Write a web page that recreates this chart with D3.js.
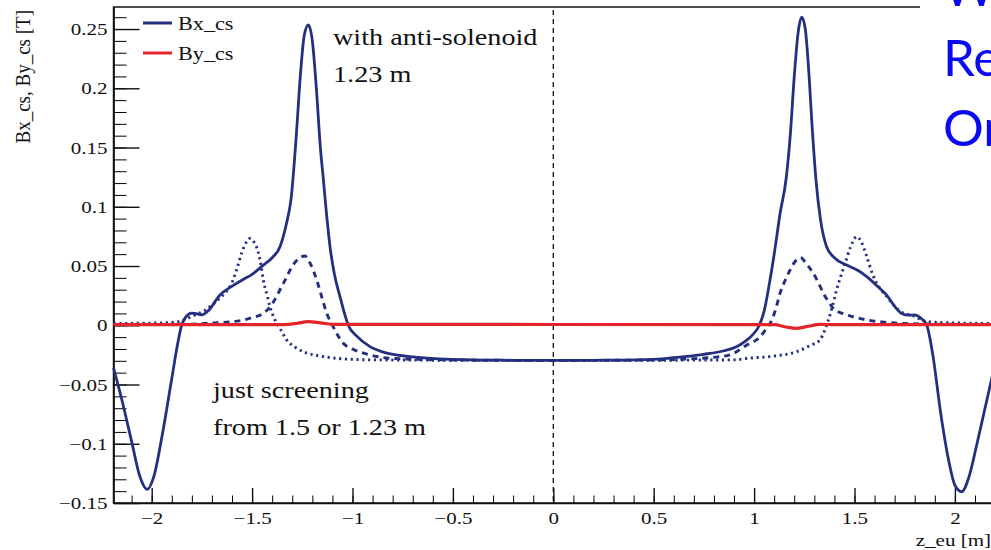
<!DOCTYPE html>
<html lang="en">
<head>
<meta charset="utf-8"/>
<title>Bx_cs, By_cs vs z_eu</title>
<script src="https://d3js.org/d3.v7.min.js"></script>
<style>
  body { margin: 0; background: #fff; overflow: hidden; }
  text { font-family: "Liberation Serif", "DejaVu Serif", serif; fill: #111; }
</style>
</head>
<body>
<script>
// data: [z_eu (m), field (T)]
var bxAnti = [[-2.19,-0.036],[-2.15,-0.062],[-2.10,-0.098],[-2.06,-0.127],[-2.022,-0.1385],[-1.99,-0.128],
  [-1.95,-0.095],[-1.90,-0.045],[-1.87,-0.015],[-1.851,0],[-1.83,0.007],[-1.80,0.0103],[-1.77,0.0095],
  [-1.75,0.0088],[-1.72,0.012],[-1.66,0.0255],[-1.60,0.033],[-1.543,0.0388],[-1.50,0.043],[-1.444,0.0508],
  [-1.40,0.057],[-1.361,0.0663],[-1.33,0.085],[-1.305,0.108],[-1.28,0.16],[-1.26,0.21],[-1.24,0.245],
  [-1.22,0.2534],[-1.20,0.24],[-1.18,0.2],[-1.16,0.15],[-1.145,0.123],[-1.13,0.095],[-1.112,0.0663],
  [-1.09,0.043],[-1.062,0.024],[-1.04,0.01],[-1.021,0],[-0.98,-0.009],[-0.913,-0.018],[-0.85,-0.0225],
  [-0.714,-0.0265],[-0.5,-0.0288],[-0.25,-0.0295],[0,-0.0297],[0.25,-0.0295],[0.5,-0.0288],[0.63,-0.0268],
  [0.75,-0.0245],[0.85,-0.0215],[0.92,-0.0175],[0.96,-0.013],[0.99,-0.0085],[1.026,0],[1.05,0.012],
  [1.079,0.038],[1.10,0.06],[1.13,0.095],[1.159,0.123],[1.18,0.16],[1.20,0.21],[1.22,0.248],[1.237,0.26],
  [1.255,0.25],[1.27,0.22],[1.29,0.165],[1.308,0.123],[1.33,0.09],[1.361,0.0663],[1.40,0.057],
  [1.461,0.0508],[1.52,0.046],[1.561,0.041],[1.62,0.032],[1.66,0.0255],[1.70,0.016],[1.735,0.01],
  [1.77,0.0085],[1.80,0.0087],[1.83,0.006],[1.86,0],[1.89,-0.025],[1.93,-0.075],[1.97,-0.115],
  [2.00,-0.135],[2.034,-0.1405],[2.07,-0.128],[2.11,-0.1],[2.15,-0.07],[2.19,-0.04]];

var bxScreen123 = [[-2.19,0.0005],[-1.80,0.001],[-1.70,0.002],[-1.60,0.003],[-1.544,0.0044],[-1.50,0.0065],
  [-1.444,0.01],[-1.40,0.018],[-1.361,0.03],[-1.33,0.04],[-1.303,0.049],[-1.27,0.056],[-1.237,0.0584],
  [-1.21,0.052],[-1.178,0.038],[-1.15,0.022],[-1.128,0.01],[-1.10,0],[-1.075,-0.008],[-1.046,-0.0152],
  [-1.0,-0.02],[-0.913,-0.025],[-0.80,-0.028],[-0.5,-0.0293],[0,-0.0297],[0.5,-0.0293],[0.80,-0.027],
  [0.88,-0.025],[0.96,-0.017],[1.03,-0.0097],[1.06,-0.003],[1.088,0.0044],[1.11,0.015],[1.129,0.027],
  [1.155,0.038],[1.179,0.0466],[1.205,0.054],[1.232,0.057],[1.26,0.052],[1.295,0.0438],[1.32,0.036],
  [1.345,0.027],[1.37,0.02],[1.394,0.0143],[1.44,0.01],[1.494,0.0072],[1.56,0.0045],[1.627,0.003],
  [1.75,0.0015],[2.19,0.0005]];

var bxScreen150 = [[-2.19,0.0015],[-1.95,0.002],[-1.87,0.003],[-1.82,0.006],[-1.78,0.009],[-1.74,0.012],
  [-1.70,0.017],[-1.66,0.023],[-1.63,0.028],[-1.60,0.036],[-1.575,0.048],[-1.55,0.062],[-1.525,0.071],
  [-1.51,0.0733],[-1.49,0.07],[-1.47,0.062],[-1.455,0.05],[-1.444,0.038],[-1.425,0.025],[-1.411,0.0157],
  [-1.39,0.006],[-1.37,0],[-1.35,-0.006],[-1.328,-0.0124],[-1.29,-0.018],[-1.245,-0.0223],[-1.16,-0.026],
  [-1.079,-0.0279],[-0.9,-0.0292],[0,-0.0297],[0.9,-0.0292],[0.963,-0.028],[1.10,-0.026],[1.212,-0.0223],
  [1.28,-0.017],[1.328,-0.0124],[1.35,-0.005],[1.37,0.0044],[1.39,0.016],[1.411,0.03],[1.435,0.043],
  [1.453,0.052],[1.48,0.066],[1.511,0.0747],[1.535,0.07],[1.561,0.058],[1.59,0.043],[1.627,0.031],
  [1.66,0.0245],[1.70,0.016],[1.735,0.011],[1.77,0.009],[1.80,0.0075],[1.84,0.004],[1.90,0.0025],
  [2.19,0.0015]];

var byCs = [[-2.19,0.0005],[-1.35,0.0005],[-1.28,0.0015],[-1.22,0.003],[-1.16,0.002],[-1.10,0.0008],
  [1.10,0.0005],[1.16,-0.0015],[1.21,-0.0026],[1.26,-0.0012],[1.33,0.0008],[1.40,0.0005],[2.19,0.0005]];

var xMajor = [-2, -1.5, -1, -0.5, 0, 0.5, 1, 1.5, 2];
var yMajor = [-0.15, -0.1, -0.05, 0, 0.05, 0.1, 0.15, 0.2, 0.25];
var legendNames = ["Bx_cs", "By_cs"];
var slideLines = ["Wi", "Re", "Or"];

var W = 991, H = 550;
var navy = "#24307f", red = "#e3242b";

var x = d3.scaleLinear().domain([-2.19, 2.19]).range([113.55, 993.05]);
var y = d3.scaleLinear().domain([-0.15, 0.2686]).range([503, 7]);

var svg = d3.select("body").append("svg").attr("width", W).attr("height", H);

// stretch text horizontally like the pasted image
function stretch(sel, k) {
  sel.each(function () {
    var w = this.getComputedTextLength();
    d3.select(this).attr("textLength", w * k).attr("lengthAdjust", "spacingAndGlyphs");
  });
}

// frame
svg.append("rect").attr("x", x(-2.19)).attr("y", y(0.2686))
  .attr("width", x(2.19) - x(-2.19)).attr("height", y(-0.15) - y(0.2686))
  .attr("fill", "none").attr("stroke", "#222").attr("stroke-width", 1.6);

// x axis
var xMinor = d3.range(-21, 22).map(function (d) { return d / 10; });
svg.append("g").attr("transform", "translate(0," + y(-0.15) + ")")
  .call(d3.axisBottom(x).tickValues(xMinor).tickSizeInner(-7.5).tickSizeOuter(0).tickFormat(""))
  .call(function (g) { g.select(".domain").attr("stroke", "#111").attr("stroke-width", 1.6); });
var xg = svg.append("g").attr("transform", "translate(0," + y(-0.15) + ")")
  .call(d3.axisBottom(x).tickValues(xMajor).tickSizeInner(-15).tickSizeOuter(0).tickPadding(9)
    .tickFormat(function (d) { return d3.format("")(d).replace("-", "\u2212"); }));
xg.select(".domain").remove();
xg.selectAll("line").attr("stroke", "#111").attr("stroke-width", 1.4);
xg.selectAll("text").attr("font-family", "Liberation Serif").attr("font-size", 17.5).attr("fill", "#111")
  .call(stretch, 1.2);

// y axis
var yMinor = d3.range(-15, 27).map(function (d) { return d / 100; });
svg.append("g").attr("transform", "translate(" + x(-2.19) + ",0)")
  .call(d3.axisLeft(y).tickValues(yMinor).tickSizeInner(-13).tickSizeOuter(0).tickFormat(""))
  .call(function (g) { g.select(".domain").attr("stroke", "#111").attr("stroke-width", 1.6); });
var yg = svg.append("g").attr("transform", "translate(" + x(-2.19) + ",0)")
  .call(d3.axisLeft(y).tickValues(yMajor).tickSizeInner(-26).tickSizeOuter(0).tickPadding(6)
    .tickFormat(function (d) { return d3.format("")(d).replace("-", "\u2212"); }));
yg.select(".domain").remove();
yg.selectAll("line").attr("stroke", "#111").attr("stroke-width", 1.4);
yg.selectAll("text").attr("font-family", "Liberation Serif").attr("font-size", 17.5).attr("fill", "#111")
  .call(stretch, 1.2);

// axis titles
svg.append("text").attr("text-anchor", "end").attr("font-size", 17.5)
  .attr("x", 991).attr("y", 546).text("z_eu [m]").call(stretch, 1.2);
svg.append("text").attr("text-anchor", "end").attr("font-size", 19)
  .attr("transform", "translate(30,10) scale(1.15,1) rotate(-90)").text("Bx_cs, By_cs [T]");

// vertical line at z = 0
svg.append("line").attr("x1", x(0)).attr("x2", x(0)).attr("y1", y(0.2686) + 3).attr("y2", y(-0.15))
  .attr("stroke", "#111").attr("stroke-width", 1.3).attr("stroke-dasharray", "5,4");

// curves
var line = d3.line().x(function (d) { return x(d[0]); }).y(function (d) { return y(d[1]); })
  .curve(d3.curveMonotoneX);

svg.append("path").datum(bxScreen150).attr("d", line).attr("fill", "none").attr("stroke", navy)
  .attr("stroke-width", 2.9).attr("stroke-dasharray", "2.2,3.6");
svg.append("path").datum(bxScreen123).attr("d", line).attr("fill", "none").attr("stroke", navy)
  .attr("stroke-width", 2.9).attr("stroke-dasharray", "6,5");
svg.append("path").datum(bxAnti).attr("d", line).attr("fill", "none").attr("stroke", navy)
  .attr("stroke-width", 2.8);
svg.append("path").datum(byCs).attr("d", line).attr("fill", "none").attr("stroke", red)
  .attr("stroke-width", 3.2);

// legend
var lg = svg.append("g");
[navy, red].forEach(function (c, i) {
  lg.append("line").attr("x1", 143).attr("x2", 172).attr("y1", 23 + 30 * i).attr("y2", 23 + 30 * i)
    .attr("stroke", c).attr("stroke-width", 3);
  lg.append("text").attr("x", 178).attr("y", 30 + 30 * i).attr("font-size", 18.5)
    .text(legendNames[i]).call(stretch, 1.2);
});

// annotations
var notes = [[333, 45, "with anti-solenoid"], [333, 82, "1.23 m"],
  [213, 398, "just screening"], [213, 435, "from 1.5 or 1.23 m"]];
notes.forEach(function (n) {
  svg.append("text").attr("x", n[0]).attr("y", n[1]).attr("font-size", 23.5).text(n[2]).call(stretch, 1.2);
});

// slide text box on the right
svg.append("rect").attr("x", 920).attr("y", 0).attr("width", 80).attr("height", 185).attr("fill", "#fff");
slideLines.forEach(function (s, i) {
  svg.append("text").attr("x", 943).attr("y", 6 + 70 * i)
    .style("font-family", "Lato, 'Open Sans', sans-serif")
    .attr("font-size", 51).style("fill", "#0a0af0").text(s);
});
</script>
</body>
</html>
